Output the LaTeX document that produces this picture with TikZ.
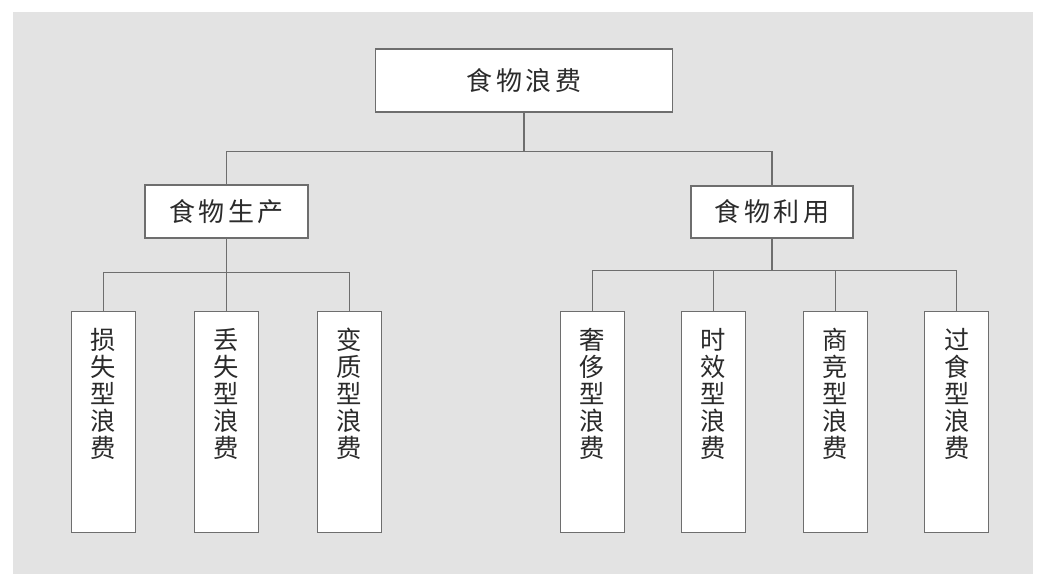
\documentclass[tikz,border=0pt]{standalone}
\usepackage{fontspec}
\usepackage{xcolor}
\usepackage{tikz}
\usetikzlibrary{positioning, calc}
\newfontfamily\cjk{Noto Sans CJK SC}
\newfontfamily\cjkwide[LetterSpace=14]{Noto Sans CJK SC}
\definecolor{bgGray}{HTML}{E3E3E3}
\definecolor{lineGray}{HTML}{6E6E6E}
\definecolor{textDark}{HTML}{2B2B2B}

\begin{document}
\begin{tikzpicture}[
    node distance=1.45cm,
    hbox/.style={draw=lineGray, fill=white, line width=0.8pt,
                 font=\cjkwide\fontsize{18.5}{21}\selectfont, text=textDark},
    leaf/.style={draw=lineGray, fill=white, line width=0.8pt,
                 text width=1.6cm, inner sep=0pt, align=center,
                 text height=0.95cm, text depth=4.575cm,
                 font=\cjk\fontsize{18}{19.2}\selectfont, text=textDark},
    link/.style={draw=lineGray, line width=0.8pt},
]
% Background panel
\useasboundingbox (0,0) rectangle (26.275,-14.7);
\fill[bgGray] (0.325,-0.3) rectangle (25.825,-14.35);

% Root and two branches
\node[hbox, minimum width=7.425cm, minimum height=1.575cm] (waste) at (13.1,-2.0125) {食物浪费};
\node[hbox, minimum width=4.075cm, minimum height=1.325cm] (prod) at (5.6625,-5.2875) {食物生产};
\node[hbox, minimum width=4.05cm, minimum height=1.3cm] (use) at (19.3,-5.3) {食物利用};

% Production leaves
\node[leaf, below=1.8cm of prod] (p2) {丢\\失\\型\\浪\\费};
\node[leaf, left=1.45cm of p2] (p1) {损\\失\\型\\浪\\费};
\node[leaf, right=1.45cm of p2] (p3) {变\\质\\型\\浪\\费};

% Utilisation leaves
\node[leaf, below=1.8cm of use, xshift=-1.46cm] (u2) {时\\效\\型\\浪\\费};
\node[leaf, left=1.41cm of u2] (u1) {奢\\侈\\型\\浪\\费};
\node[leaf, right=1.41cm of u2] (u3) {商\\竞\\型\\浪\\费};
\node[leaf, right=1.41cm of u3] (u4) {过\\食\\型\\浪\\费};

\draw[link] (waste.south) -- ++(0,-0.975) -| (prod.north);
\draw[link] (waste.south) -- ++(0,-0.975) -| (use.north);
\foreach \n in {p1,p2,p3}
    \draw[link] (prod.south) -- ++(0,-0.85) -| (\n.north);
\foreach \n in {u1,u2,u3,u4}
    \draw[link] (use.south) -- ++(0,-0.8) -| (\n.north);
\end{tikzpicture}
\end{document}
